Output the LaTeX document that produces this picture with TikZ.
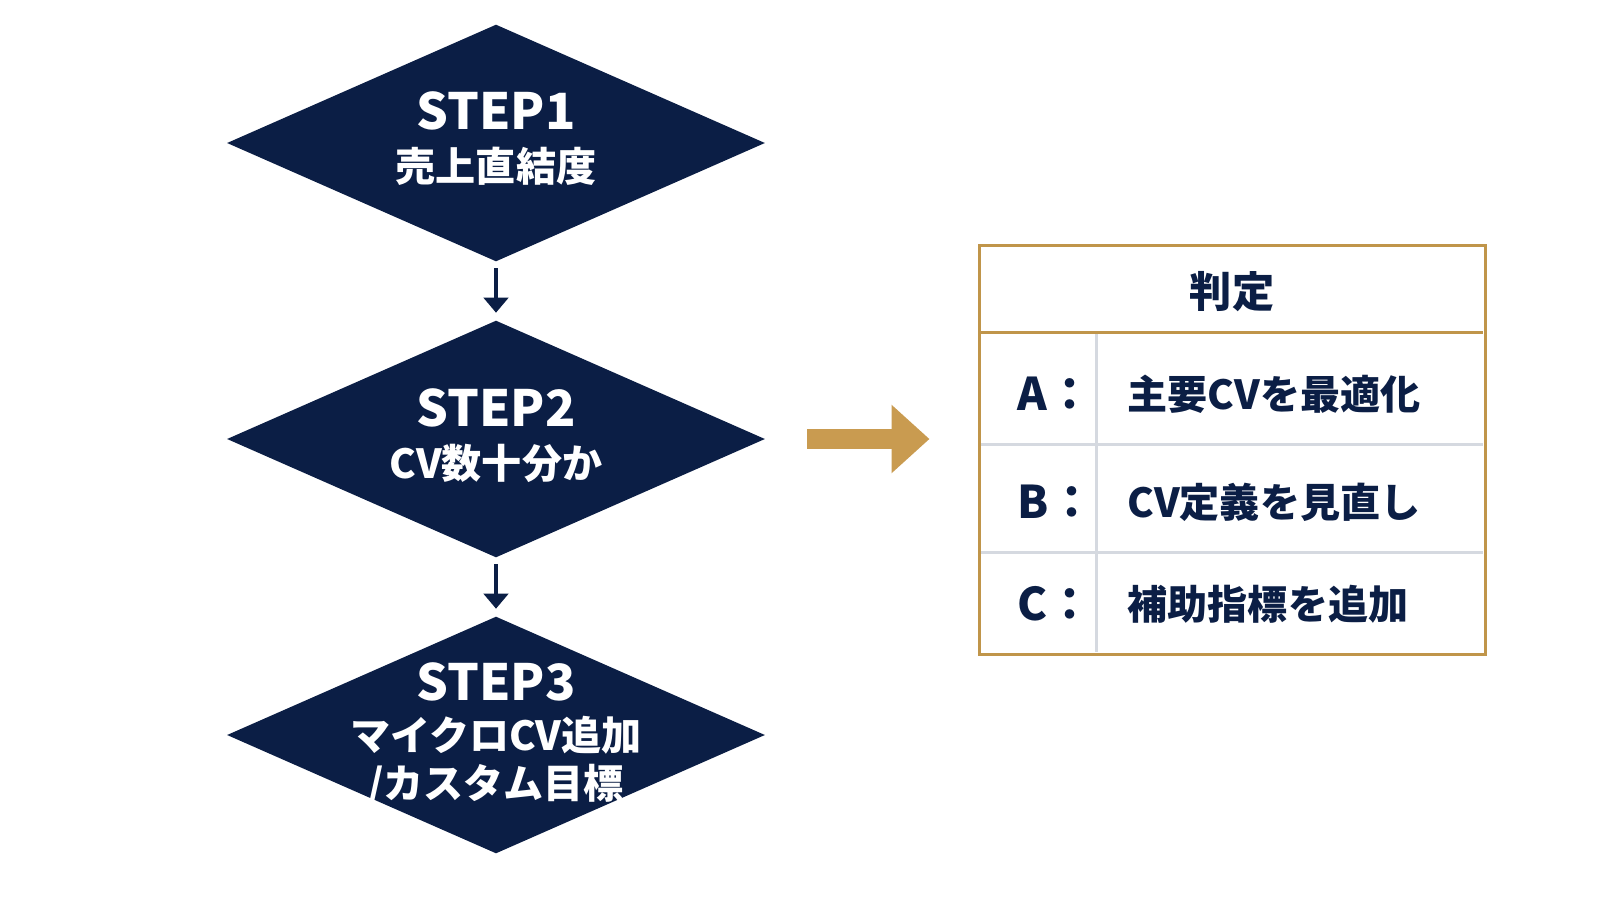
\documentclass[tikz,border=0pt]{standalone}
\usepackage{fontspec}
\setmainfont{Noto Sans CJK JP}
\usetikzlibrary{arrows.meta,positioning,shapes.geometric}
\definecolor{CVNavy}{HTML}{0B1E45}
\definecolor{CVGold}{HTML}{C0954A}
\definecolor{CVGoldArrow}{HTML}{C99B50}
\definecolor{CVRule}{HTML}{D5D9E0}
\newcommand{\stephead}{\fontsize{14.2}{15}\selectfont}
\tikzset{
  decision/.style={diamond,fill=CVNavy,draw=none,minimum width=5.38cm,
                   minimum height=2.37cm,inner sep=0pt,aspect=2.27},
  steptext/.style={text=white,font=\fontsize{11.4}{13.6}\selectfont\bfseries,
                   align=center,inner sep=0pt},
  flow/.style={-{Triangle[length=4.3pt,width=7pt]},CVNavy,line width=.9pt,
               shorten <=1.7pt,shorten >=2pt},
  bigflow/.style={-{Triangle[length=10.8pt,width=18.8pt]},CVGoldArrow,
                  line width=5.7pt,shorten <=11.7pt,shorten >=13.9pt},
  judgebox/.style={draw=CVGold,line width=.85pt,fill=white,
                   minimum width=5.05cm,minimum height=4.08cm},
  headrule/.style={CVGold,line width=.85pt},
  rowrule/.style={CVRule,line width=.7pt},
  judgehead/.style={text=CVNavy,font=\fontsize{12}{14}\selectfont\bfseries},
  rowkey/.style={text=CVNavy,font=\fontsize{12.8}{15}\selectfont\bfseries,
                 anchor=west,inner sep=0pt},
  rowtext/.style={text=CVNavy,font=\fontsize{11.4}{14}\selectfont\bfseries,
                  anchor=west,inner sep=0pt},
}
\begin{document}
\begin{tikzpicture}[x=.01cm,y=-.01cm]
    \useasboundingbox[fill=white] (0,0) rectangle (1600,900);

    \node[decision] (step1) at (496,143) {};
    \node[steptext] (step1txt) at (496,139)
      {{\stephead STEP1}\\[1.2pt]売上直結度};
    \node[decision] (step2) at (496,439) {};
    \node[steptext] (step2txt) at (496,436)
      {{\stephead STEP2}\\[1.2pt]CV数十分か};
    \node[decision] (step3) at (496,735) {};
    \node[steptext] (step3txt) at (496,734)
      {{\stephead STEP3}\\[.6pt]マイクロCV追加\\/カスタム目標};

    \draw[flow] (step1)--(step2);
    \draw[flow] (step2)--(step3);

    \node[judgebox] (judge) at (1232.5,450) {};
    \draw[rowrule] (judge.north west) ++(0,200) -- ++(505,0);
    \draw[rowrule] (judge.north west) ++(0,308) -- ++(505,0);
    \draw[rowrule] (judge.north west) ++(118,88) -- ++(0,320);
    \draw[headrule] (judge.north west) ++(0,88) -- ++(505,0);
    \node[judgebox,fill=none] (judgeframe) at (judge) {};

    \draw[bigflow] (step2.east) -- (step2.east -| judge.west);

    \node[judgehead] (judgetitle) at (1232,292) {判定};
    \node[rowkey] (keyA) at (1017,394) {A：};
    \node[rowtext] (optA) at (1127,394) {主要CVを最適化};
    \node[rowkey] (keyB) at (1017,502) {B：};
    \node[rowtext] (optB) at (1127,502) {CV定義を見直し};
    \node[rowkey] (keyC) at (1017,604) {C：};
    \node[rowtext] (optC) at (1127,604) {補助指標を追加};
  \end{tikzpicture}
\end{document}
